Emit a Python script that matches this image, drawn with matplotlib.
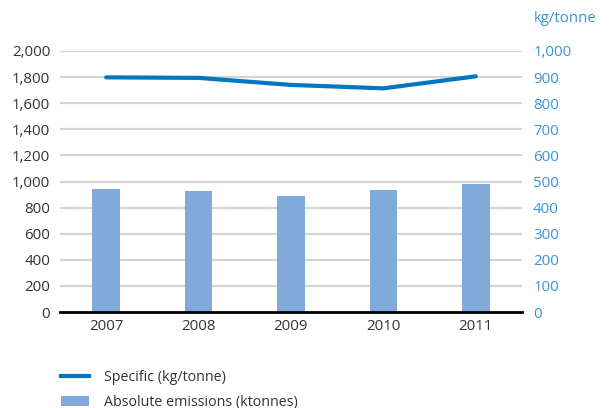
import matplotlib
matplotlib.use("Agg")
import matplotlib.pyplot as plt
from matplotlib.lines import Line2D
from matplotlib.patches import Patch

years = ["2007", "2008", "2009", "2010", "2011"]
absolute_ktonnes = [940, 925, 889, 935, 981]
specific_kg_per_tonne = [899, 897, 870, 857, 903]
left_ticks = [0, 200, 400, 600, 800, 1000, 1200, 1400, 1600, 1800, 2000]
right_ticks = [0, 100, 200, 300, 400, 500, 600, 700, 800, 900, 1000]

plt.rcParams['font.family'] = ['Open Sans', 'DejaVu Sans']

bar_color = "#80aada"
line_color = "#0077c0"
right_color = "#3a93d3"
grid_color = "#d4d4d4"
text_color = "#333333"
fs = 10.8

fig = plt.figure(figsize=(6.09, 4.08), dpi=100)
ax = fig.add_axes([60/609, 1 - 312/408, 462/609, (312-51)/408])
x = list(range(len(years)))

ax.set_xlim(-0.5, len(years) - 0.5)
ax.set_ylim(0, 2000)
ax.set_yticks(left_ticks)
ax.set_yticklabels([f"{v:,}" for v in left_ticks])
for v in left_ticks[1:]:
    ax.axhline(v, color=grid_color, lw=1.6, zorder=0)
ax.bar(x, absolute_ktonnes, width=0.3, color=bar_color, zorder=2)
ax.set_xticks(x)
ax.set_xticklabels(years)

for s in ["top", "right", "left"]:
    ax.spines[s].set_visible(False)
ax.spines["bottom"].set_color("black")
ax.spines["bottom"].set_linewidth(2)
ax.spines["bottom"].set_zorder(5)
ax.tick_params(axis="both", length=0, labelsize=fs, colors=text_color)
ax.tick_params(axis="y", pad=7)
ax.tick_params(axis="x", pad=5)

ax2 = ax.twinx()
ax2.set_ylim(0, 1000)
ax2.set_yticks(right_ticks)
ax2.set_yticklabels([f"{v:,}" for v in right_ticks])
ax2.plot(x, specific_kg_per_tonne, color=line_color, lw=3.0, solid_capstyle="round", zorder=3)
for s in ["top", "right", "left", "bottom"]:
    ax2.spines[s].set_visible(False)
ax2.tick_params(axis="y", length=0, labelsize=fs, colors=right_color, pad=8)
fig.text(534/609, 1 - 18/408, "kg/tonne", color=right_color, fontsize=fs, ha="left", va="center")

handles = [Line2D([0], [0], color=line_color, lw=3.0),
           Patch(facecolor=bar_color)]
labels = ["Specific (kg/tonne)", "Absolute emissions (ktonnes)"]
fig.legend(handles, labels, loc="upper left", bbox_to_anchor=(48/609, 1 - 357/408),
           frameon=False, fontsize=10.3, labelcolor=text_color, handlelength=2.0,
           handletextpad=1.0, labelspacing=0.7)

fig.savefig("out.png", dpi=100)
